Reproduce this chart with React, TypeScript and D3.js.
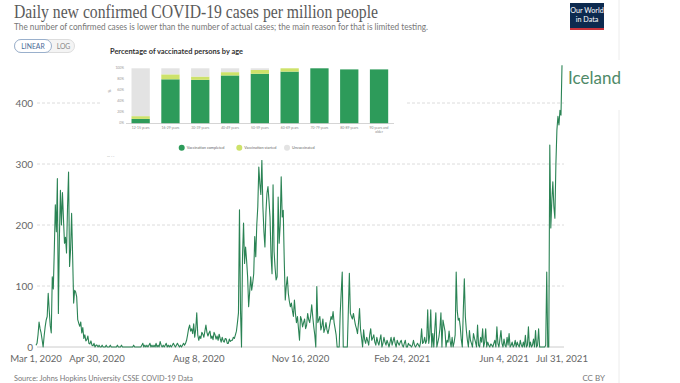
import React from "react";
import * as d3 from "d3";

// Daily new confirmed COVID-19 cases per million people, Iceland
const firstDay = "2020-03-01";
const mar2020 = [3, 6, 20, 41, 30, 23, 12, 0, 18, 33, 44, 50, 88, 60, 35, 23, 115, 95, 160, 233, 189, 276, 55, 180, 257, 200, 253, 210, 170, 180, 154];
const apr2020 = [230, 287, 132, 160, 219, 150, 72, 93, 90, 82, 45, 39, 34, 41, 23, 32, 14, 20, 10, 12, 18, 6, 5, 10, 3, 2, 6, 0, 3, 3];
const may2020 = [0, 3, 0, 0, 3, 0, 0, 0, 3, 0, 0, 0, 3, 0, 0, 0, 0, 0, 0, 3, 0, 0, 0, 3, 0, 0, 0, 0, 0, 0, 0];
const jun2020 = [0, 0, 0, 0, 3, 0, 0, 0, 0, 0, 0, 0, 3, 6, 0, 3, 0, 3, 0, 3, 6, 0, 3, 0, 3, 0, 6, 0, 3, 0];
const jul2020 = [9, 3, 0, 3, 0, 3, 6, 0, 3, 0, 3, 0, 3, 6, 3, 0, 3, 6, 3, 0, 3, 0, 3, 6, 3, 6, 11, 20, 30, 36, 26];
const aug2020 = [30, 22, 38, 16, 29, 56, 20, 11, 18, 14, 24, 21, 16, 26, 36, 24, 18, 23, 26, 14, 18, 12, 24, 20, 13, 18, 11, 21, 14, 8, 16];
const sep2020 = [10, 8, 14, 13, 6, 6, 13, 9, 11, 11, 16, 14, 20, 26, 40, 56, 225, 60, 0, 150, 203, 137, 164, 142, 115, 66, 90, 115, 93, 105];
const oct2020 = [120, 181, 148, 200, 230, 295, 268, 250, 306, 230, 190, 164, 220, 252, 263, 240, 213, 150, 120, 266, 157, 130, 110, 115, 246, 170, 200, 279, 213, 224, 142];
const nov2020 = [77, 100, 115, 88, 75, 66, 72, 60, 50, 77, 55, 40, 50, 30, 11, 50, 45, 33, 40, 46, 30, 36, 55, 45, 40, 52, 69, 50, 33, 20];
const dec2020 = [0, 99, 40, 45, 50, 28, 35, 46, 24, 30, 40, 28, 22, 30, 40, 50, 45, 58, 40, 30, 20, 0, 0, 0, 55, 90, 123, 0, 0, 0, 0];
const jan2021 = [0, 60, 121, 55, 50, 46, 55, 45, 36, 30, 22, 40, 63, 28, 15, 0, 28, 12, 6, 16, 10, 3, 20, 30, 11, 15, 20, 8, 3, 16, 8];
const feb2021 = [3, 12, 20, 0, 6, 16, 8, 3, 11, 6, 0, 8, 16, 3, 10, 16, 6, 0, 11, 6, 3, 8, 11, 3, 0, 6, 11, 0];
const mar2021 = [0, 6, 3, 3, 0, 3, 11, 3, 0, 3, 6, 3, 0, 8, 30, 6, 8, 16, 6, 11, 61, 6, 20, 61, 0, 22, 0, 30, 56, 0, 8];
const apr2021 = [16, 30, 56, 0, 44, 35, 26, 0, 11, 8, 26, 10, 0, 16, 0, 8, 20, 123, 60, 44, 47, 33, 12, 0, 60, 112, 50, 27, 11, 0];
const may2021 = [27, 11, 6, 0, 22, 14, 8, 0, 36, 3, 0, 16, 8, 30, 0, 8, 30, 0, 8, 3, 0, 5, 3, 0, 6, 11, 0, 33, 6, 0, 13];
const jun2021 = [27, 6, 0, 13, 3, 0, 16, 3, 22, 0, 3, 8, 0, 3, 11, 0, 8, 3, 0, 11, 3, 0, 8, 0, 19, 0, 3, 33, 0, 8];
const jul2021 = [0, 3, 13, 0, 27, 0, 3, 30, 0, 0, 0, 0, 0, 0, 3, 123, 0, 0, 331, 195, 240, 271, 230, 211, 300, 356, 378, 364, 388, 380, 462];

const yTicks = [0, 100, 200, 300, 400];
const xTickDates = ["2020-03-01", "2020-04-30", "2020-08-08", "2020-11-16", "2021-02-24", "2021-06-04", "2021-07-31"];
const xTickLabels = ["Mar 1, 2020", "Apr 30, 2020", "Aug 8, 2020", "Nov 16, 2020", "Feb 24, 2021", "Jun 4, 2021", "Jul 31, 2021"];

// Inset: percentage of vaccinated persons by age
const ageGroups = ["12-15 years", "16-29 years", "30-39 years", "40-49 years", "50-59 years", "60-69 years", "70-79 years", "80-89 years", "90 years and older"];
const vaccCompleted = [8, 80, 79, 87, 90, 94, 100, 98, 98];
const vaccStarted = [5, 9, 6, 6, 7, 6, 0, 0, 0];
const unvaccinated = [87, 11, 15, 7, 3, 0, 0, 0, 0];
const insetTicks = [0, 20, 40, 60, 80, 100];
const legendLabels = ["Vaccination completed", "Vaccination started", "Unvaccinated"];

const parse = d3.timeParse("%Y-%m-%d");
const FONT = "Lato, 'Noto Sans', sans-serif";

export default function App() {
  const values = [mar2020, apr2020, may2020, jun2020, jul2020, aug2020, sep2020, oct2020, nov2020, dec2020, jan2021, feb2021, mar2021, apr2021, may2021, jun2021, jul2021].flat();
  const start = parse(firstDay)!;
  const data = values.map((v, i) => ({ date: d3.timeDay.offset(start, i), v }));

  const x = d3.scaleTime().domain([parse("2020-03-01")!, parse("2021-07-31")!]).range([36, 562]);
  const y = d3.scaleLinear().domain([0, 400]).range([347, 103]);
  const line = d3.line<{ date: Date; v: number }>().x((d) => x(d.date)).y((d) => y(d.v));

  // inset scales
  const bx = d3.scaleBand<string>().domain(ageGroups).range([125.75, 393.95]).paddingInner(0.386).paddingOuter(0.193);
  const by = d3.scaleLinear().domain([0, 100]).range([123.3, 68.3]);
  const stackColors = ["#2d9b5a", "#cde26a", "#e3e3e3"];
  const stacks = [vaccCompleted, vaccStarted, unvaccinated];

  return (
    <svg width={680} height={383} style={{ position: "absolute", left: 0, top: 0, background: "#fff" }} fontFamily={FONT}>
      <rect width={680} height={383} fill="#fff" />
      {/* right frame line */}
      <line x1={619} x2={619} y1={0} y2={60} stroke="#ececec" />
      <line x1={619} x2={619} y1={110} y2={383} stroke="#ececec" />

      {/* Header */}
      <text x={14} y={18} fontFamily="'Liberation Serif', 'DejaVu Serif', serif" fontSize={18} fill="#5a5a5a" textLength={364} lengthAdjust="spacingAndGlyphs">
        Daily new confirmed COVID-19 cases per million people
      </text>
      <text x={14} y={29.5} fontSize={9.5} fill="#777" textLength={414} lengthAdjust="spacingAndGlyphs">
        The number of confirmed cases is lower than the number of actual cases; the main reason for that is limited testing.
      </text>

      {/* Logo */}
      <rect x={570} y={3} width={34} height={27} fill="#0d2a4f" />
      <rect x={570} y={28} width={34} height={2} fill="#c8323b" />
      <text x={587} y={13} fontSize={7.2} fill="#fff" textAnchor="middle">Our World</text>
      <text x={587} y={22} fontSize={7.2} fill="#fff" textAnchor="middle">in Data</text>

      {/* Linear / Log toggle */}
      <rect x={14.5} y={39.5} width={60} height={13} rx={6.5} fill="#f4f4f4" stroke="#ddd" />
      <rect x={14.5} y={39.5} width={37} height={13} rx={6.5} fill="#fff" stroke="#9ab0cc" />
      <text x={33} y={48.7} fontSize={6.8} fill="#4a6a96" textAnchor="middle">LINEAR</text>
      <text x={63.5} y={48.7} fontSize={6.8} fill="#888" textAnchor="middle">LOG</text>

      {/* Gridlines */}
      {yTicks.map((t) => (
        <g key={t}>
          <line x1={37} x2={564} y1={y(t)} y2={y(t)} stroke={t === 0 ? "#ccc" : "#dcdcdc"} strokeDasharray={t === 0 ? undefined : "3,2"} />
          <text x={33} y={y(t) + 3.5} fontSize={10} fill="#666" textAnchor="end">{t}</text>
        </g>
      ))}

      {/* X ticks */}
      {xTickDates.map((d, i) => (
        <text key={d} x={x(parse(d)!)} y={362} fontSize={9.6} fill="#666" textAnchor="middle">{xTickLabels[i]}</text>
      ))}

      {/* Line */}
      <path d={line(data) || ""} fill="none" stroke="#2a8354" strokeWidth={1.1} strokeLinejoin="round" />

      {/* Series label */}
      <rect x={566} y={64} width={70} height={26} fill="#fff" />
      <text x={568} y={84} fontSize={17} fill="#4f8a68">Iceland</text>

      {/* Inset image of vaccination chart */}
      <g>
        <rect x={102} y={40} width={303} height={120} fill="#fff" />
        <text x={110} y={54} fontSize={7} fontWeight="bold" fill="#333" textLength={133} lengthAdjust="spacingAndGlyphs">
          Percentage of vaccinated persons by age
        </text>
        {insetTicks.map((t) => (
          <text key={t} x={124} y={by(t) + 1} fontSize={3.4} fill="#999" textAnchor="end">{t}%</text>
        ))}
        <text x={111} y={91} fontSize={3.6} fill="#888" textAnchor="middle" transform="rotate(-90 111 91)">%</text>
        {ageGroups.map((g, i) => {
          let acc = 0;
          return (
            <g key={g}>
              {stacks.map((s, k) => {
                const y0 = acc;
                acc += s[i];
                return s[i] > 0 ? (
                  <rect key={k} x={bx(g)} width={bx.bandwidth()} y={by(acc)} height={by(y0) - by(acc)} fill={stackColors[k]} />
                ) : null;
              })}
            </g>
          );
        })}
        <line x1={126} x2={394} y1={123.5} y2={123.5} stroke="#aaa" strokeWidth={0.5} />
        {ageGroups.map((g) => {
          const cx = (bx(g) || 0) + bx.bandwidth() / 2;
          const parts = g === "90 years and older" ? ["90 years and", "older"] : [g];
          return parts.map((p, j) => (
            <text key={g + j} x={cx} y={129 + j * 4} fontSize={3.4} fill="#888" textAnchor="middle">{p}</text>
          ));
        })}
        {legendLabels.map((l, i) => {
          const lx = [181.7, 239.3, 287][i];
          return (
            <g key={l}>
              <circle cx={lx} cy={147.7} r={3} fill={stackColors[i]} />
              <text x={lx + 5} y={149} fontSize={3.8} fill="#666">{l}</text>
            </g>
          );
        })}
        <text x={107} y={157.5} fontSize={4} fill="#888">··· · ·</text>
      </g>

      {/* Footer */}
      <text x={14} y={381} fontSize={8} fill="#777" textLength={179} lengthAdjust="spacingAndGlyphs">
        Source: Johns Hopkins University CSSE COVID-19 Data
      </text>
      <text x={605} y={381} fontSize={8} fill="#777" textAnchor="end">CC BY</text>
    </svg>
  );
}
